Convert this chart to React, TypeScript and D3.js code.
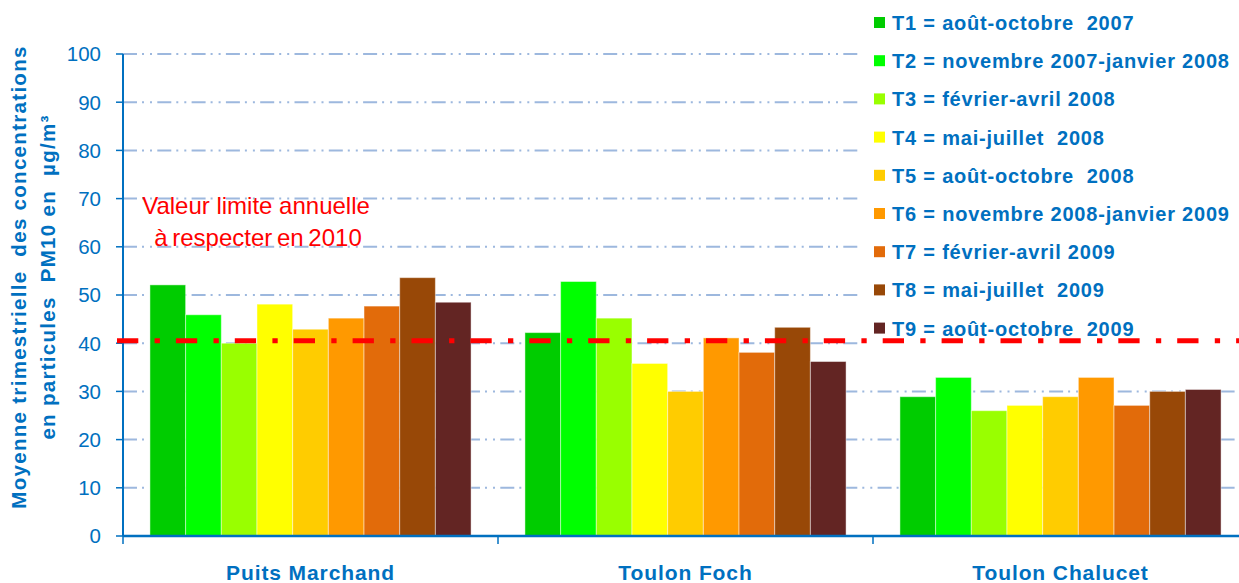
import React from "react";
import * as d3 from "d3";

// Stations (x categories)
const stations = ["Puits Marchand", "Toulon Foch", "Toulon Chalucet"];

// Quarterly periods
const periods = ["T1", "T2", "T3", "T4", "T5", "T6", "T7", "T8", "T9"];
const periodLabels = [
  "T1 = août-octobre  2007",
  "T2 = novembre 2007-janvier 2008",
  "T3 = février-avril 2008",
  "T4 = mai-juillet  2008",
  "T5 = août-octobre  2008",
  "T6 = novembre 2008-janvier 2009",
  "T7 = février-avril 2009",
  "T8 = mai-juillet  2009",
  "T9 = août-octobre  2009",
];
const periodColors = [
  "#00CC00",
  "#00FF00",
  "#99FF00",
  "#FFFF00",
  "#FFCC00",
  "#FF9900",
  "#E26B0A",
  "#984807",
  "#632523",
];

// Quarterly PM10 means (µg/m³) per station, T1..T9
const puitsMarchand = [52.1, 45.9, 40.0, 48.1, 42.9, 45.2, 47.7, 53.6, 48.5];
const toulonFoch = [42.2, 52.8, 45.2, 35.8, 30.0, 41.1, 38.1, 43.3, 36.2];
const toulonChalucet = [28.9, 32.9, 26.0, 27.1, 28.9, 32.9, 27.1, 30.0, 30.4];
const stationValues = [puitsMarchand, toulonFoch, toulonChalucet];

// Axis ticks and annual limit reference
const yTicks = [0, 10, 20, 30, 40, 50, 60, 70, 80, 90, 100];
const limitValue = 40.5;
const limitLabel = ["Valeur limite annuelle", "à respecter en 2010"];
const yTitle = ["Moyenne trimestrielle  des concentrations", "en particules  PM10 en  µg/m³"];

const W = 1239;
const H = 583;
const BLUE = "#0070C0";
const FONT = "'Liberation Sans', Arial, sans-serif";

export default function App() {
  const x0 = d3.scaleBand<string>().domain(stations).range([123, 1248]).padding(0);
  const x1 = d3
    .scaleBand<string>()
    .domain(periods)
    .range([0, x0.bandwidth()])
    .paddingInner(0)
    .paddingOuter(0.755);
  const y = d3.scaleLinear().domain([0, 100]).range([536, 54]);
  const axisX = x0.range()[0];
  const baseY = y(0);

  const bars = stations.flatMap((s, si) =>
    periods.map((p, pi) => ({
      key: `${s}-${p}`,
      x: (x0(s) ?? 0) + (x1(p) ?? 0),
      w: x1.bandwidth(),
      v: stationValues[si][pi],
      color: periodColors[pi],
    }))
  );

  const legendTop = 30;
  const legendStep = 38.2;

  return (
    <svg
      width={W}
      height={H}
      style={{ position: "absolute", left: 0, top: 0, background: "#fff" }}
      fontFamily={FONT}
    >
      {/* gridlines */}
      {yTicks
        .filter((t) => t > 0)
        .map((t) => (
          <line
            key={`g${t}`}
            x1={axisX}
            x2={W}
            y1={y(t)}
            y2={y(t)}
            stroke="#9DB8DE"
            strokeWidth={2}
            strokeDasharray="14 5 2 6 2 5.3"
          />
        ))}

      {/* bars */}
      {bars.map((b) => (
        <rect
          key={b.key}
          x={b.x}
          y={y(b.v)}
          width={b.w}
          height={baseY - y(b.v)}
          fill={b.color}
          stroke="rgba(255,255,255,0.45)"
          strokeWidth={1}
        />
      ))}

      {/* legend panel */}
      <rect x={862} y={0} width={W - 862} height={346} fill="#fff" />
      {periodLabels.map((lab, i) => {
        const by = legendTop + i * legendStep;
        return (
          <g key={lab}>
            <rect x={874} y={by - 13} width={11} height={11} fill={periodColors[i]} />
            <text
              x={892}
              y={by}
              fontSize={20}
              fontWeight="bold"
              fill={BLUE}
              letterSpacing={0.8}
              style={{ whiteSpace: "pre" }}
            >
              {lab}
            </text>
          </g>
        );
      })}

      {/* y axis */}
      <line x1={axisX} x2={axisX} y1={y(100)} y2={baseY} stroke={BLUE} strokeWidth={2} />
      {yTicks.map((t) => (
        <g key={`t${t}`}>
          <line x1={axisX - 7} x2={axisX} y1={y(t)} y2={y(t)} stroke={BLUE} strokeWidth={1.5} />
          <text
            x={101}
            y={y(t)}
            dy="0.36em"
            textAnchor="end"
            fontSize={20.5}
            fill={BLUE}
          >
            {t}
          </text>
        </g>
      ))}

      {/* x axis */}
      <line x1={axisX} x2={W} y1={baseY} y2={baseY} stroke={BLUE} strokeWidth={2.5} />
      {[...stations.map((s) => x0(s) ?? 0), x0.range()[1]].map((bx, i) => (
        <line key={`xt${i}`} x1={bx} x2={bx} y1={baseY} y2={baseY + 8} stroke={BLUE} strokeWidth={1.5} />
      ))}
      {stations.map((s) => (
        <text
          key={s}
          x={(x0(s) ?? 0) + x0.bandwidth() / 2}
          y={580}
          textAnchor="middle"
          fontSize={21}
          fontWeight="bold"
          fill={BLUE}
          letterSpacing={0.9}
        >
          {s}
        </text>
      ))}

      {/* y axis title */}
      {yTitle.map((line, i) => (
        <text
          key={line}
          transform="rotate(-90)"
          x={-277}
          y={26 + i * 29}
          textAnchor="middle"
          fontSize={20.5}
          fontWeight="bold"
          fill={BLUE}
          letterSpacing={1.3}
          style={{ whiteSpace: "pre" }}
        >
          {line}
        </text>
      ))}

      {/* annual limit line and label */}
      <line
        x1={117}
        x2={W}
        y1={y(limitValue)}
        y2={y(limitValue)}
        stroke="#FF0000"
        strokeWidth={5}
        strokeDasharray="21.3 16.3 5.3 16"
      />
      {limitLabel.map((line, i) => (
        <text
          key={line}
          x={i === 0 ? 256 : 258}
          y={214 + i * 32}
          textAnchor="middle"
          fontSize={24}
          fill="#FF0000"
          wordSpacing={i === 0 ? 0 : -2}
        >
          {line}
        </text>
      ))}
    </svg>
  );
}
